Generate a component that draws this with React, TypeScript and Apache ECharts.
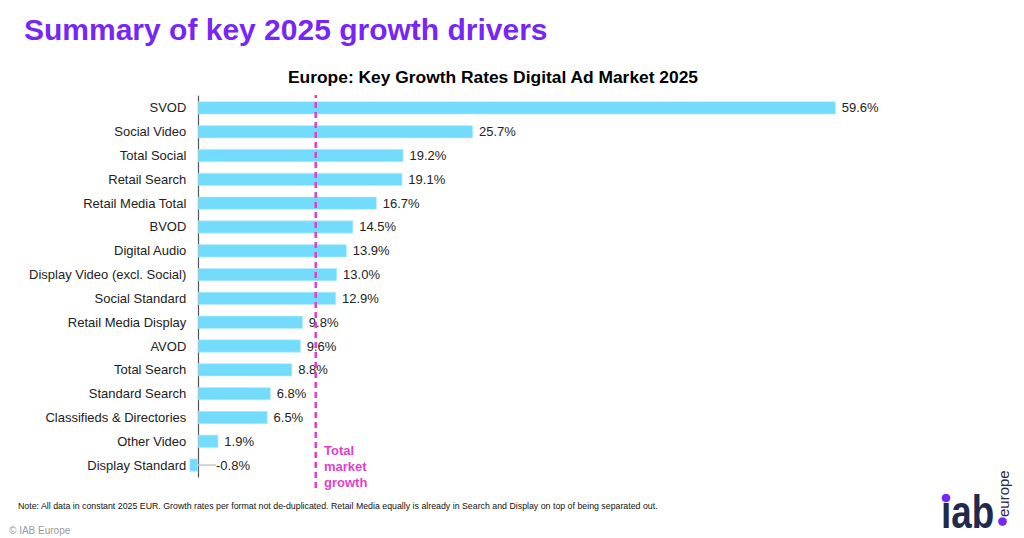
import React, { useEffect, useRef } from "react";
import * as echarts from "echarts";

const categories = [
  "SVOD",
  "Social Video",
  "Total Social",
  "Retail Search",
  "Retail Media Total",
  "BVOD",
  "Digital Audio",
  "Display Video (excl. Social)",
  "Social Standard",
  "Retail Media Display",
  "AVOD",
  "Total Search",
  "Standard Search",
  "Classifieds & Directories",
  "Other Video",
  "Display Standard",
];
const growthRates = [59.6, 25.7, 19.2, 19.1, 16.7, 14.5, 13.9, 13.0, 12.9, 9.8, 9.6, 8.8, 6.8, 6.5, 1.9, -0.8];
const totalMarketGrowth = 11.0;

const FONT = "'Liberation Sans', Arial, Helvetica, sans-serif";
const PURPLE = "#7727F5";
const MAGENTA = "#E13FCB";
const NAVY = "#1F2A4D";
const X_MIN = -1;
const X_MAX = 70;

export default function App() {
  const ref = useRef<HTMLDivElement>(null);

  useEffect(() => {
    if (!ref.current) return;
    const chart = echarts.init(ref.current, null, { renderer: "svg" });

    const barData = growthRates.map((v) =>
      v < 0
        ? {
            value: v,
            labelLine: { show: true, lineStyle: { color: "#c8c8c8", width: 1.5 } },
          }
        : v
    );

    chart.setOption({
      animation: false,
      backgroundColor: "#ffffff",
      textStyle: { fontFamily: FONT },
      title: [
        {
          text: "Summary of key 2025 growth drivers",
          left: 19,
          top: 9,
          textStyle: { fontFamily: FONT, fontSize: 30, fontWeight: "bold", color: PURPLE },
        },
        {
          text: "Europe: Key Growth Rates Digital Ad Market 2025",
          left: 488,
          top: 63,
          textAlign: "center",
          textStyle: { fontFamily: FONT, fontSize: 17.4, fontWeight: "bold", color: "#000" },
        },
      ],
      grid: [
        { left: 187.3, width: 759.7, top: 96, height: 381 },
        { left: 187.3, width: 759.7, top: 95, height: 393 },
      ],
      xAxis: [
        { type: "value", gridIndex: 0, min: X_MIN, max: X_MAX, show: false },
        { type: "value", gridIndex: 1, min: X_MIN, max: X_MAX, show: false },
      ],
      yAxis: [
        {
          type: "category",
          gridIndex: 0,
          data: categories,
          inverse: true,
          axisLine: { show: true, onZero: true, lineStyle: { color: "#555", width: 1.2 } },
          axisTick: { show: false },
          axisLabel: { fontFamily: FONT, fontSize: 13, color: "#222", margin: 1 },
        },
        { type: "value", gridIndex: 1, min: 0, max: 1, show: false },
      ],
      series: [
        {
          type: "bar",
          xAxisIndex: 0,
          yAxisIndex: 0,
          data: barData,
          barWidth: 13,
          itemStyle: { color: "#73DCFD", borderColor: "#B8ECFE", borderWidth: 0.6 },
          label: {
            show: true,
            position: "right",
            distance: 6,
            fontFamily: FONT,
            fontSize: 13,
            color: "#222",
            formatter: (p: any) => `${Number(p.value).toFixed(1)}%`,
          },
          labelLayout: (p: any) => (growthRates[p.dataIndex] < 0 ? { dx: 12 } : {}),
        },
        {
          type: "line",
          xAxisIndex: 1,
          yAxisIndex: 1,
          data: [
            [totalMarketGrowth, 0],
            [totalMarketGrowth, 1],
          ],
          symbol: "none",
          lineStyle: { color: MAGENTA, width: 2.5, type: [6, 4] },
        },
      ],
      graphic: [
        {
          type: "text",
          left: 324,
          top: 442,
          style: {
            text: "Total\nmarket\ngrowth",
            font: `bold 13px ${FONT}`,
            fill: MAGENTA,
            lineHeight: 16,
          },
        },
        {
          type: "text",
          left: 18,
          top: 501,
          style: {
            text:
              "Note: All data in constant 2025 EUR. Growth rates per format not de-duplicated. Retail Media equally is already in Search and Display on top of being separated out.",
            font: `8.8px ${FONT}`,
            fill: "#111",
          },
        },
        {
          type: "text",
          left: 9,
          top: 525,
          style: { text: "© IAB Europe", font: `10px ${FONT}`, fill: "#9a9a9a" },
        },
        // iab europe logo
        {
          type: "text",
          x: 941,
          y: 489,
          scaleX: 0.8,
          style: { text: "ıab", font: `bold 46px ${FONT}`, fill: NAVY },
        },
        { type: "circle", shape: { cx: 946, cy: 498, r: 4.3 }, style: { fill: PURPLE } },
        { type: "circle", shape: { cx: 1002.5, cy: 521.5, r: 4.3 }, style: { fill: PURPLE } },
        {
          type: "text",
          x: 996,
          y: 517,
          rotation: Math.PI / 2,
          style: { text: "europe", font: `15px ${FONT}`, fill: NAVY },
        },
      ],
    });

    return () => chart.dispose();
  }, []);

  return (
    <div
      ref={ref}
      style={{ position: "fixed", left: 0, top: 0, width: 1024, height: 538, background: "#fff" }}
    />
  );
}
